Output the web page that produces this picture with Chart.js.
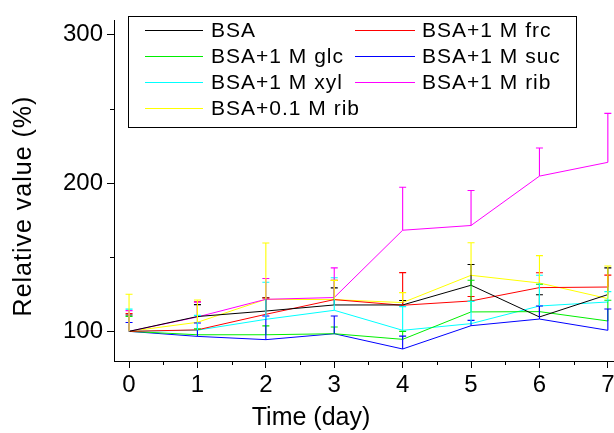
<!DOCTYPE html>
<html>
<head>
<meta charset="utf-8">
<script src="https://cdn.jsdelivr.net/npm/chart.js@4"></script>
<style>
html,body{margin:0;padding:0;background:#fff;}
#wrap{width:614px;height:433px;position:relative;}
</style>
</head>
<body>
<div id="wrap"><canvas id="c" width="614" height="433"></canvas></div>
<script>
const days = [0, 1, 2, 3, 4, 5, 6, 7];
const xTickValues = [0, 1, 2, 3, 4, 5, 6, 7];
const xMinorTicks = [0.5, 1.5, 2.5, 3.5, 4.5, 5.5, 6.5];
const yTickValues = [100, 200, 300];
const yMinorTicks = [150, 250];
const xTitle = 'Time (day)';
const yTitle = 'Relative value (%)';

const seriesLabels = ['BSA', 'BSA+1 M frc', 'BSA+1 M glc', 'BSA+1 M suc', 'BSA+1 M xyl', 'BSA+1 M rib', 'BSA+0.1 M rib'];
const seriesColors = ['#000000', '#ff0000', '#00ee00', '#0000ff', '#00ffff', '#ff00ff', '#ffff00'];

const bsa   = [100, 110.0, 113.7, 117.8, 117.8, 131.1, 109.7, 124.8];
const frc   = [100, 101.0, 111.5, 121.4, 117.6, 120.5, 129.5, 129.9];
const glc   = [100, 97.7, 97.7, 98.4, 94.6, 113.1, 113.3, 107.0];
const suc   = [100, 96.6, 94.4, 98.4, 88.1, 103.8, 108.3, 100.7];
const xyl   = [100, 100.8, 108.1, 114.2, 100.7, 105.2, 117.1, 119.8];
const rib   = [100, 109.7, 121.6, 122.8, 168.2, 171.4, 204.7, 214.0];
const rib01 = [100, 106.1, 121.6, 121.4, 119.4, 137.8, 132.6, 122.1];

const bsaErr   = [11, 8, 9, 11.5, 3, 14, 15, 18];
const frcErr   = [12, 19, 11, 13, 22, 3, 10, 8];
const glcErr   = [10, 4, 6, 4.5, 5.4, 21.4, 18.5, 14];
const sucErr   = [6, 9, 16, 12, 8.7, 3.6, 8.8, 14.4];
const xylErr   = [15, 10, 25, 22, 16, 15, 20.7, 7];
const ribErr   = [14, 10, 14, 20, 29, 23.6, 19, 33];
const rib01Err = [25, 15, 38, 13, 6.7, 22, 18.5, 22];

const seriesValues = [bsa, frc, glc, suc, xyl, rib, rib01];
const seriesErrors = [bsaErr, frcErr, glcErr, sucErr, xylErr, ribErr, rib01Err];

const FONT = "'Liberation Sans', Arial, Helvetica, sans-serif";

const datasets = seriesLabels.map((lab, i) => ({
  label: lab,
  data: days.map((d, j) => ({x: d, y: seriesValues[i][j]})),
  errors: seriesErrors[i],
  borderColor: seriesColors[i],
  backgroundColor: seriesColors[i],
  borderWidth: 1,
  pointRadius: 0,
  tension: 0,
  fill: false
}));

const errorBars = {
  id: 'errorBars',
  afterDatasetsDraw(chart) {
    const ctx = chart.ctx, xs = chart.scales.x, ys = chart.scales.y;
    ctx.save();
    ctx.lineWidth = 1.1;
    chart.data.datasets.forEach(ds => {
      ds.data.forEach((p, j) => {
        const px = xs.getPixelForValue(p.x);
        const py = ys.getPixelForValue(p.y);
        const pt = ys.getPixelForValue(p.y + ds.errors[j]);
        ctx.strokeStyle = ds.borderColor;
        ctx.beginPath();
        ctx.moveTo(px, py);
        ctx.lineTo(px, pt);
        ctx.moveTo(px - 3.5, pt);
        ctx.lineTo(px + 3.5, pt);
        ctx.stroke();
      });
    });
    ctx.restore();
  }
};

const extras = {
  id: 'extras',
  afterDraw(chart) {
    const ctx = chart.ctx, xs = chart.scales.x, ys = chart.scales.y, a = chart.chartArea;
    ctx.save();
    ctx.strokeStyle = '#000';
    ctx.lineWidth = 1;
    ctx.beginPath();
    yMinorTicks.forEach(v => {
      const py = Math.round(ys.getPixelForValue(v)) + 0.5;
      ctx.moveTo(a.left - 4, py); ctx.lineTo(a.left, py);
    });
    xMinorTicks.forEach(v => {
      const px = Math.round(xs.getPixelForValue(v)) + 0.5;
      ctx.moveTo(px, a.bottom); ctx.lineTo(px, a.bottom + 4);
    });
    ctx.stroke();

    ctx.fillStyle = '#000';
    ctx.font = '25px ' + FONT;
    ctx.textAlign = 'center';
    ctx.textBaseline = 'middle';
    ctx.fillText(xTitle, 311, 418);
    ctx.save();
    ctx.translate(24, 206);
    ctx.rotate(-Math.PI / 2);
    ctx.letterSpacing = '1px';
    ctx.fillText(yTitle, 0, 0);
    ctx.restore();

    const bx = 128.5, by = 16.5, bw = 448, bh = 111;
    ctx.fillStyle = '#fff';
    ctx.fillRect(bx, by, bw, bh);
    ctx.strokeStyle = '#000';
    ctx.lineWidth = 1;
    ctx.strokeRect(bx, by, bw, bh);
    const rowsY = [30.5, 56.5, 82.5, 108.5];
    const cols = [{l1: 145, l2: 203, t: 211}, {l1: 355, l2: 415, t: 422}];
    ctx.font = '21px ' + FONT;
    ctx.letterSpacing = '1px';
    ctx.textAlign = 'left';
    ctx.textBaseline = 'middle';
    chart.data.datasets.forEach((ds, i) => {
      const r = Math.floor(i / 2), c = cols[i % 2];
      const y = rowsY[r];
      ctx.strokeStyle = ds.borderColor;
      ctx.lineWidth = 1.2;
      ctx.beginPath();
      ctx.moveTo(c.l1, y); ctx.lineTo(c.l2, y);
      ctx.stroke();
      ctx.fillStyle = '#000';
      ctx.fillText(ds.label, c.t, y + 1);
    });
    ctx.restore();
  }
};

new Chart(document.getElementById('c'), {
  type: 'line',
  data: {datasets},
  options: {
    responsive: false,
    animation: false,
    devicePixelRatio: 1,
    layout: {padding: {top: 20, left: 0, right: 0, bottom: 0}},
    plugins: {legend: {display: false}, tooltip: {enabled: false}},
    scales: {
      x: {
        type: 'linear',
        min: -0.22,
        max: 7.09,
        afterBuildTicks: s => { s.ticks = xTickValues.map(v => ({value: v})); },
        afterFit: s => { s.height = 72; s.paddingLeft = 0; s.paddingRight = 0; },
        grid: {display: true, drawOnChartArea: false, drawTicks: true, tickLength: 7, color: '#000', lineWidth: 1},
        border: {display: true, color: '#000', width: 1},
        ticks: {color: '#000', font: {family: FONT, size: 24}, padding: 3, maxRotation: 0, autoSkip: false},
        title: {display: false}
      },
      y: {
        type: 'linear',
        min: 80,
        max: 310,
        afterBuildTicks: s => { s.ticks = yTickValues.map(v => ({value: v})); },
        afterFit: s => { s.width = 114; },
        grid: {display: true, drawOnChartArea: false, drawTicks: true, tickLength: 7, color: '#000', lineWidth: 1},
        border: {display: true, color: '#000', width: 1},
        ticks: {color: '#000', font: {family: FONT, size: 24}, padding: 4, autoSkip: false},
        title: {display: false}
      }
    }
  },
  plugins: [errorBars, extras]
});
</script>
</body>
</html>
